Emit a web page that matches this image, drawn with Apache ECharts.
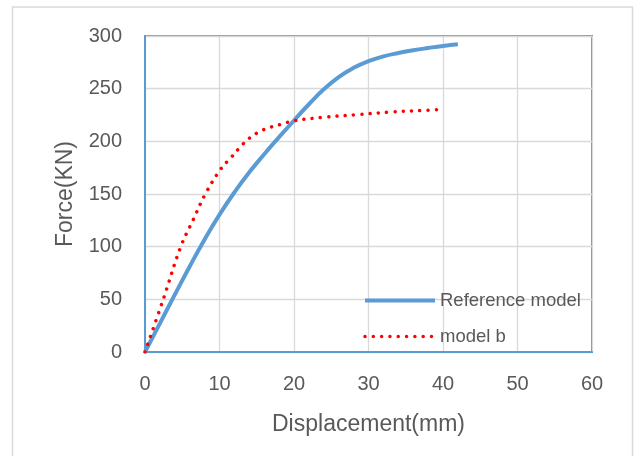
<!DOCTYPE html>
<html>
<head>
<meta charset="utf-8">
<script src="https://cdn.jsdelivr.net/npm/echarts@6/dist/echarts.min.js"></script>
<style>
  html, body { margin: 0; padding: 0; background: #fff; }
  #chart { width: 635px; height: 456px; }
</style>
</head>
<body>
<div id="chart"></div>
<script>
// displacement (mm) / force (KN)
var refDisp  = [0, 2, 4, 6, 8, 10, 12, 14, 16, 18, 20, 22, 24, 26, 28, 30, 32, 34, 36, 38, 40, 42];
var refForce = [0, 27.2, 54.4, 81.2, 106.8, 130.4, 151.6, 170.6, 187.8, 204, 219.8, 235.2, 249.4, 261, 269.8, 276.2, 280.6, 283.8, 286.4, 288.6, 290.6, 292.2];

var bDisp  = [0, 2.45, 4.8, 6.5, 8.1, 10.1, 11.6, 13.1, 14, 15.9, 18.2, 20, 23.9, 28.4, 33.1, 37.7, 40];
var bForce = [0, 50, 100, 126, 150, 173, 185, 197, 203, 211, 216, 219.5, 222.8, 225.3, 227.9, 229.5, 230.4];

var seriesNames = ['Reference model', 'model b'];

function pairs(xs, ys) {
    var out = [];
    for (var i = 0; i < xs.length; i++) {
        out.push([xs[i], ys[i]]);
    }
    return out;
}

var txt = '#595959';
var font = 'Liberation Sans, Arial, sans-serif';
var blue = '#5B9BD5';
var red = '#FF0000';
var redDots = [0.01, 8.3];

var mChart = echarts.init(document.getElementById('chart'), null, { renderer: 'canvas' });
mChart.setOption({
    animation: false,
    textStyle: { fontFamily: font },
    graphic: [{
        type: 'rect',
        shape: { x: 12.5, y: 7, width: 620, height: 470 },
        style: { fill: 'none', stroke: '#D9D9D9', lineWidth: 1.5 },
        silent: true
    }],
    grid: {
        left: 145, right: 43, top: 36, bottom: 104,
        show: true, borderColor: blue, borderWidth: 2
    },
    legend: {
        orient: 'vertical',
        left: 358, top: 286,
        itemWidth: 70, itemHeight: 14, itemGap: 17,
        itemStyle: { opacity: 0 },
        textStyle: { color: txt, fontSize: 18.5, fontFamily: font },
        data: [
            { name: seriesNames[0], lineStyle: { color: blue, width: 4 } },
            { name: seriesNames[1], lineStyle: { color: red, width: 3.5, type: redDots, cap: 'round' } }
        ]
    },
    xAxis: {
        type: 'value', min: 0, max: 60, interval: 10,
        name: 'Displacement(mm)', nameLocation: 'middle', nameGap: 61,
        nameTextStyle: { color: txt, fontSize: 23, fontFamily: font },
        axisLine: { show: true, lineStyle: { color: blue, width: 2 } },
        axisTick: { show: false },
        axisLabel: { color: txt, fontSize: 20, margin: 22, fontFamily: font },
        splitLine: { show: true, lineStyle: { color: '#D9D9D9', width: 1.3 } }
    },
    yAxis: {
        type: 'value', min: 0, max: 300, interval: 50,
        name: 'Force(KN)', nameLocation: 'middle', nameGap: 68,
        nameTextStyle: { color: txt, fontSize: 23, fontFamily: font },
        axisLine: { show: true, lineStyle: { color: blue, width: 2 } },
        axisTick: { show: false },
        axisLabel: { color: txt, fontSize: 20, margin: 23, fontFamily: font },
        splitLine: { show: true, lineStyle: { color: '#D9D9D9', width: 1.3 } }
    },
    series: [{
        name: seriesNames[0],
        type: 'line',
        data: pairs(refDisp, refForce),
        smooth: 0.5,
        symbol: 'none',
        lineStyle: { color: blue, width: 4 },
        itemStyle: { color: blue }
    }, {
        name: seriesNames[1],
        type: 'line',
        data: pairs(bDisp, bForce),
        smooth: 0.4,
        symbol: 'none',
        lineStyle: { color: red, width: 3.5, type: redDots, cap: 'round' },
        itemStyle: { color: red }
    }]
});
</script>
</body>
</html>
